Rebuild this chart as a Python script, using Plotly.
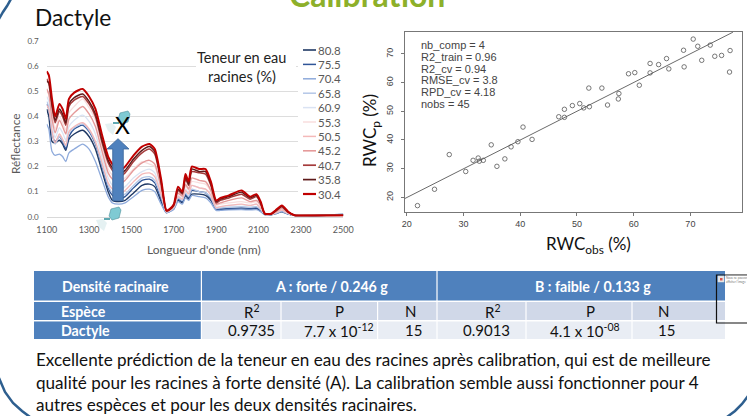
import plotly.graph_objects as go

W, H = 747, 416

# ---------- spectra data ----------
wavelength = [1100,1110,1125,1140,1160,1175,1190,1205,1230,1270,1300,1330,1360,1390,1410,1440,1470,1510,1550,1585,1610,1640,1665,1680,1700,1720,1740,1755,1770,1785,1820,1850,1875,1900,1920,1960,2020,2060,2090,2110,2130,2160,2180,2210,2240,2270,2350,2500]
s808 = [.43,.40,.30,.295,.305,.29,.265,.31,.33,.345,.32,.27,.185,.10,.065,.06,.065,.095,.125,.13,.12,.06,.016,.021,.032,.065,.055,.085,.07,.09,.09,.085,.065,.028,.03,.03,.03,.03,.032,.022,.008,.008,.012,.02,.01,.005,.004,.009]
s755 = [.45,.43,.33,.30,.32,.30,.27,.32,.35,.365,.34,.29,.205,.115,.085,.07,.08,.115,.145,.15,.135,.07,.017,.022,.034,.07,.06,.09,.075,.105,.10,.095,.07,.03,.03,.033,.035,.033,.035,.025,.009,.009,.013,.022,.011,.005,.004,.008]
s704 = [.37,.35,.26,.245,.25,.24,.22,.255,.27,.29,.27,.22,.15,.08,.055,.05,.055,.08,.105,.11,.10,.05,.015,.02,.03,.06,.05,.075,.065,.085,.08,.075,.055,.025,.025,.027,.028,.027,.028,.02,.008,.008,.012,.02,.01,.005,.004,.01]
s658 = [.46,.44,.335,.29,.32,.305,.28,.335,.355,.37,.345,.295,.21,.125,.095,.08,.09,.125,.155,.16,.145,.08,.018,.023,.036,.075,.065,.095,.08,.11,.10,.095,.075,.033,.035,.038,.04,.038,.04,.028,.009,.009,.014,.024,.012,.005,.004,.007]
s609 = [.48,.46,.37,.315,.355,.335,.305,.36,.385,.405,.38,.33,.24,.155,.125,.105,.12,.155,.18,.19,.175,.095,.02,.024,.038,.085,.072,.11,.095,.125,.115,.11,.085,.04,.04,.045,.048,.045,.05,.034,.01,.01,.016,.027,.013,.005,.005,.007]
s553 = [.50,.49,.41,.35,.40,.375,.345,.415,.44,.47,.435,.385,.285,.19,.165,.14,.155,.19,.22,.21,.20,.11,.02,.026,.04,.09,.08,.125,.105,.14,.135,.13,.10,.045,.05,.055,.06,.055,.06,.04,.01,.01,.017,.03,.014,.005,.005,.006]
s505 = [.445,.43,.34,.295,.33,.31,.285,.34,.36,.375,.35,.30,.22,.135,.11,.09,.105,.14,.17,.175,.16,.09,.019,.024,.038,.08,.07,.105,.09,.125,.115,.11,.085,.035,.04,.045,.05,.045,.05,.032,.009,.009,.015,.026,.013,.005,.004,.007]
s452 = [.51,.49,.39,.335,.385,.36,.33,.39,.415,.44,.41,.36,.265,.175,.15,.13,.145,.185,.215,.225,.21,.115,.021,.026,.042,.095,.082,.13,.11,.155,.145,.14,.105,.05,.055,.065,.075,.06,.065,.045,.01,.01,.019,.034,.015,.005,.005,.006]
s407 = [.55,.53,.44,.375,.42,.40,.365,.44,.465,.48,.45,.40,.30,.215,.185,.16,.175,.22,.255,.27,.25,.135,.023,.028,.045,.105,.09,.15,.125,.18,.175,.17,.125,.055,.065,.075,.09,.07,.08,.052,.011,.011,.022,.04,.018,.006,.005,.006]
s358 = [.54,.535,.45,.385,.43,.41,.375,.45,.475,.49,.46,.41,.31,.225,.195,.17,.185,.23,.265,.28,.26,.14,.024,.028,.047,.11,.095,.16,.13,.19,.18,.18,.13,.06,.07,.08,.098,.075,.085,.055,.011,.011,.023,.042,.018,.006,.005,.006]
s304 = [.58,.565,.47,.40,.45,.43,.39,.47,.495,.51,.48,.43,.33,.24,.21,.18,.20,.245,.28,.29,.27,.15,.025,.03,.05,.12,.10,.17,.14,.20,.19,.19,.14,.065,.075,.085,.105,.08,.09,.06,.012,.012,.025,.045,.02,.006,.005,.005]
series_labels = ["80.8","75.5","70.4","65.8","60.9","55.3","50.5","45.2","40.7","35.8","30.4"]
series_values = [s808,s755,s704,s658,s609,s553,s505,s452,s407,s358,s304]
series_colors = ["#1F3864","#2F5597","#8EAADB","#B4C7E7","#DAE3F3","#F8DEDE","#F4B9B9","#E59A9A","#A53B3B","#5E1A1A","#C00000"]
series_widths = [1.4,1.3,1.3,1.3,1.3,1.3,1.3,1.4,1.5,1.5,2.0]
x_ticks = [1100,1300,1500,1700,1900,2100,2300,2500]
y_ticks = [0,.1,.2,.3,.4,.5,.6,.7]

# ---------- scatter data ----------
rwc_obs = [21.9,24.9,27.5,30.4,31.7,32.6,32.8,33.5,34.9,35.9,37.3,38.4,39.6,40.5,42.1,46.8,47.8,47.8,49.2,50.5,51.2,52.1,52.2,54.4,55.4,57.3,57.4,59.1,60.2,61.0,62.9,62.9,64.4,65.8,66.2,68.8,68.9,70.5,71.3,72.0,73.5,74.3,75.5,77.0,76.9]
rwc_pred = [17.1,22.8,34.9,29.0,32.9,33.7,32.6,32.9,38.3,30.8,33.4,37.6,39.4,44.5,40.2,48.1,47.9,50.7,52.0,52.7,51.2,58.1,51.6,58.1,52.2,54.3,56.2,63.1,63.5,59.1,66.7,63.4,66.3,68.4,64.8,71.3,65.5,75.2,72.7,67.8,73.1,69.2,69.5,71.2,63.7]
fit_x = [19.7,77.5]
fit_y = [19.6,77.6]
stats_lines = ["nb_comp = 4","R2_train = 0.96","R2_cv = 0.94","RMSE_cv = 3.8","RPD_cv = 4.18","nobs = 45"]

# ---------- table + text ----------
table_col_edges = [34,201.4,281,377.6,437,526,632,725]
head_labels = ["Densité racinaire","A : forte / 0.246 g","B : faible / 0.133 g"]
row_species = ["R<sup>2</sup>","P","N","R<sup>2</sup>","P","N"]
row_dactyle = ["0.9735","7.7 x 10<sup>-12</sup>","15","0.9013","4.1 x 10<sup>-08</sup>","15"]
paragraph = ["Excellente prédiction de la teneur en eau des racines après calibration, qui est de meilleure",
             "qualité pour les racines à forte densité (A). La calibration semble aussi fonctionner pour 4",
             "autres espèces et pour les deux densités racinaires."]

def px(x): return x / W
def py(y): return 1 - y / H
def path(points, close=True):
    s = "M " + " L ".join(f"{px(a):.5f},{py(b):.5f}" for a, b in points)
    return s + (" Z" if close else "")

shapes, ann = [], []
def text(x, y, t, size=12, color="#000", fam="Lato", anchor="left", bold=False, angle=0, va="middle"):
    ann.append(dict(xref="paper", yref="paper", x=px(x), y=py(y), text=f"<b>{t}</b>" if bold else t, showarrow=False,
                    xanchor=anchor, yanchor=va, textangle=angle, font=dict(size=size, color=color, family=fam),
                    borderpad=0, borderwidth=0))
def rect(x0, y0, x1, y1, fill, line=None, lw=0, layer="above"):
    shapes.append(dict(type="rect", xref="paper", yref="paper", x0=px(x0), x1=px(x1), y0=py(y0), y1=py(y1),
                       fillcolor=fill, line=dict(color=line or fill, width=lw), layer=layer))
def poly(points, fill, line=None, lw=0, close=True):
    shapes.append(dict(type="path", xref="paper", yref="paper", path=path(points, close), fillcolor=fill if close else "rgba(0,0,0,0)",
                       line=dict(color=line or "rgba(0,0,0,0)", width=lw), layer="above"))

fig = go.Figure()
for lab, vals, col, w in zip(series_labels, series_values, series_colors, series_widths):
    fig.add_trace(go.Scatter(x=wavelength, y=vals, mode="lines", name=lab, line=dict(color=col, width=w, shape="spline", smoothing=0.6), xaxis="x", yaxis="y", showlegend=False))
fig.add_trace(go.Scatter(x=fit_x, y=fit_y, mode="lines", line=dict(color="#6a6a6a", width=1), xaxis="x2", yaxis="y2", showlegend=False))
fig.add_trace(go.Scatter(x=rwc_obs, y=rwc_pred, mode="markers", marker=dict(symbol="circle-open", size=4.5, color="#555", line=dict(width=0.8, color="#555")), xaxis="x2", yaxis="y2", showlegend=False))

# blank out gridlines behind legend and caption
rect(298, 44, 346, 200, "white")
rect(196, 46, 296, 86, "white")
text(242, 57.5, "Teneur en eau", 14.5, "#222", anchor="center")
text(242, 76.5, "racines (%)", 14.5, "#222", anchor="center")
for i, (lab, col, w) in enumerate(zip(series_labels, series_colors, series_widths)):
    y = 50 + i * 14.4
    shapes.append(dict(type="line", xref="paper", yref="paper", x0=px(303), x1=px(316), y0=py(y), y1=py(y), line=dict(color=col, width=w + .2), layer="above"))
    text(317.5, y, lab, 11.5, "#595959")

text(35, 18, "Dactyle", 22.7, "#111")
text(367, -5, "Calibration", 32, "#8DB02A", anchor="center", bold=True)
text(15, 144, "Réflectance", 11.8, "#595959", anchor="center", angle=-90)
text(204, 249, "Longueur d'onde (nm)", 12, "#595959", anchor="center")
text(588, 245, "RWC<sub>obs</sub> (%)", 17, "#111", anchor="center")
text(371, 131, "RWC<sub>p</sub> (%)", 17, "#111", anchor="center", angle=-90)
for i, s in enumerate(stats_lines):
    text(421, 45 + i * 11.8, s, 11, "#444", fam="Liberation Sans")

# decor: slide frame arcs
poly([(11, -1), (7, 6), (3, 12), (-1, 19)], "", "#2E5F8F", 2.5, close=False)
poly([(-1, 378), (5, 392), (13, 403), (22, 411), (30, 417)], "", "#2E5F8F", 2.5, close=False)
poly([(748, 396), (742, 404), (735, 411), (727, 417)], "", "#2E5F8F", 2.5, close=False)

# arrow
poly([(118, 138.7), (129, 149), (123.3, 149), (123.3, 200.7), (112.7, 200.7), (112.7, 149), (107, 149)], "#4F81BD", "#3A659A", .8)
# watering cans
def can(dx, dy):
    poly([(105+dx,124+dy),(108+dx,131+dy),(113+dx,135+dy),(116+dx,127+dy),(112+dx,123+dy)], "rgba(225,238,240,.85)")
    poly([(113+dx,122+dy),(119+dx,122+dy),(119+dx,124+dy),(113+dx,124+dy)], "#5FA9B2")
    poly([(120+dx,113+dy),(128+dx,111+dy),(130+dx,114+dy),(128+dx,122+dy),(121+dx,124+dy),(118+dx,120+dy)], "#7FCAD3", "#4E8F98", .6)
can(0, 0)
can(-9, 96)
text(122.5, 124.5, "X", 23, "#000", anchor="center")

# table
c = table_col_edges
rect(c[0], 271, c[7], 300.5, "#4F81BD", layer="below")
rect(c[0], 302, c[7], 320, "#D0D8E8", layer="below")
rect(c[0], 321.5, c[7], 339, "#E9EDF4", layer="below")
rect(c[0], 302, c[1], 320, "#4F81BD", layer="below")
rect(c[0], 321.5, c[1], 339, "#4F81BD", layer="below")
for e in c[1:-1]:
    if e in (c[1], c[4]):
        y0 = 271
    else:
        y0 = 302
    shapes.append(dict(type="line", xref="paper", yref="paper", x0=px(e), x1=px(e), y0=py(y0), y1=py(339), line=dict(color="white", width=1.2), layer="below"))
text(115.7, 286, head_labels[0], 14.2, "white", anchor="center", bold=True)
text(331, 286, head_labels[1], 14.2, "white", anchor="center", bold=True)
text(593, 286, head_labels[2], 14.2, "white", anchor="center", bold=True)
text(61, 311.5, "Espèce", 14.2, "white", bold=True)
text(61, 330.5, "Dactyle", 14.2, "white", bold=True)
for s, d, xa, xb in zip(row_species, row_dactyle, [252,339,410,493,590,663], [251,339,413,486,585,666]):
    text(xa, 311, s, 15, "#111", anchor="center")
    text(xb, 330, d, 15, "#111", anchor="center")

# broken image box
rect(716.5, 275, 748, 323, "rgba(0,0,0,0)", "#111", 1.2)
rect(718, 276, 724, 282, "#E8E8E8", "#ddd", .5)
rect(720, 278, 722.5, 280.5, "#D9534F")
rect(725.5, 275.8, 748, 284, "white")
text(726, 277.5, "Nous ne pouvons", 3, "#777")
text(726, 281.5, "afficher l'image", 3, "#777")

for i, s in enumerate(paragraph):
    text(36, 359.5 + i * 22.6, s, 17.1, "#111")

fig.update_layout(
    width=W, height=H, margin=dict(l=0, r=0, t=0, b=0, autoexpand=False), paper_bgcolor="white", plot_bgcolor="rgba(0,0,0,0)",
    shapes=shapes, annotations=ann, showlegend=False, hovermode=False,
    xaxis=dict(domain=[px(46.7), px(343.3)], range=[1100, 2500], tickvals=x_ticks, showgrid=False, zeroline=False,
               showline=True, linecolor="#D9D9D9", linewidth=1, ticks="", ticklabelstandoff=4, tickfont=dict(size=9, color="#595959", family="Lato"), anchor="y"),
    yaxis=dict(domain=[py(216.7), py(41.3)], range=[0, 0.7], tickvals=y_ticks, tickformat=".1f", gridcolor="#DDDDDD", gridwidth=1,
               zeroline=False, ticks="", ticklabelstandoff=7, tickfont=dict(size=8, color="#595959", family="Lato"), anchor="x"),
    xaxis2=dict(domain=[px(405), px(742)], range=[19.7, 79.1], tickvals=[20,30,40,50,60,70], showgrid=False, zeroline=False,
                showline=True, mirror=True, linecolor="#777", linewidth=1.2, ticks="outside", ticklen=3, tickcolor="#777",
                tickfont=dict(size=9, color="#444", family="Liberation Sans"), anchor="y2"),
    yaxis2=dict(domain=[py(212), py(32)], range=[14.87, 77.67], tickvals=[20,30,40,50,60,70], showgrid=False, zeroline=False,
                showline=True, mirror=True, linecolor="#777", linewidth=1.2, ticks="outside", ticklen=3, ticklabelstandoff=4, tickcolor="#777", tickangle=-90,
                tickfont=dict(size=9, color="#444", family="Liberation Sans"), anchor="x2"),
)
fig.write_html("out.html", config=dict(displayModeBar=False), post_script="document.body.style.margin='0';document.body.style.overflow='hidden';")
